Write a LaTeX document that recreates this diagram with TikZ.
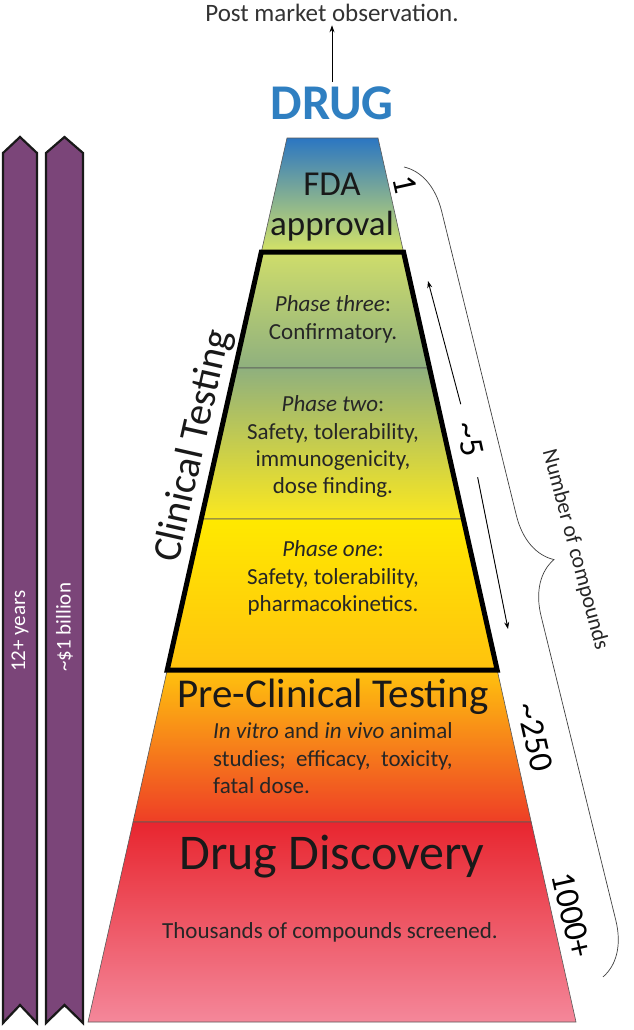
\documentclass[tikz,border=0pt]{standalone}
\usepackage{fontspec}
\setmainfont{Carlito}
\usetikzlibrary{arrows.meta,decorations.pathreplacing}

\definecolor{ribbonpurple}{HTML}{7B4579}
\definecolor{drugblue}{HTML}{2F7FC1}
\definecolor{fdatop}{HTML}{2B76C2}
\definecolor{fdamid}{HTML}{8EC0C2}
\definecolor{fdabot}{HTML}{D6E466}
\definecolor{ph3top}{HTML}{CFDD6B}
\definecolor{ph3bot}{HTML}{8FB07E}
\definecolor{ph2mid}{HTML}{C8D266}
\definecolor{ph2bot}{HTML}{FBE81F}
\definecolor{ph1top}{HTML}{FFE900}
\definecolor{ph1bot}{HTML}{FFC20E}
\definecolor{premid}{HTML}{F7941D}
\definecolor{prebot}{HTML}{EE3E26}
\definecolor{disctop}{HTML}{E8262F}
\definecolor{discmid}{HTML}{EF6370}
\definecolor{discbot}{HTML}{F4879A}

\tikzset{
  declare function={xl(\y)=287-0.2251*(\y-138); xr(\y)=378+0.224*(\y-138);},
  layer/.style={draw=black!65, line width=0.6pt},
  phasetext/.style={font=\fontsize{23}{27}\selectfont, text=black!85, inner sep=0pt},
  title/.style={font=\fontsize{#1}{#1}\selectfont, text=black!90, inner sep=0pt},
  count/.style={font=\fontsize{34}{34}\selectfont, rotate=-77.4, inner sep=2pt},
  ribbon/.style={fill=ribbonpurple, draw=black!90, line width=2.2pt},
  ribbontext/.style={font=\fontsize{21}{21}\selectfont, text=white, rotate=90, anchor=west, inner sep=0pt},
  numarrow/.style={-{Stealth[length=7pt,width=5pt]}, line width=0.9pt},
  compbrace/.style={decorate, decoration={brace, amplitude=52pt}, draw=black!75, line width=0.7pt},
}

\begin{document}
\begin{tikzpicture}[x=1pt, y=-1pt]
\useasboundingbox (0,0) rectangle (633,1030);
\fill[white] (0,0) rectangle (633,1030);

 % ribbons
 \foreach \xa/\xb/\txt/\n in {3/37/{12+ years}/years, 46/83/{\textasciitilde\$1 billion}/cost} {
   \draw[ribbon] (\xa,153) -- ({(\xa+\xb)/2},137) -- (\xb,153) -- (\xb,1023) -- ({(\xa+\xb)/2},1005) -- (\xa,1023) -- cycle;
   \node[ribbontext] (\n) at ({(\xa+\xb)/2}, 672) {\txt};
 }

 % pyramid layers
 \foreach \ya/\yb/\ct/\cm/\cb in {138/252/fdatop/fdamid/fdabot, 252/368/ph3top/ph3top!50!ph3bot/ph3bot,
     368/519/ph3bot/ph2mid/ph2bot, 519/670/ph1top/ph1top!50!ph1bot/ph1bot,
     670/822/ph1bot/premid/prebot, 822/1022/disctop/discmid/discbot} {
   \draw[layer, top color=\ct, middle color=\cm, bottom color=\cb]
     ({xl(\ya)},\ya) -- ({xr(\ya)},\ya) -- ({xr(\yb)},\yb) -- ({xl(\yb)},\yb) -- cycle;
 }

 % clinical box
 \draw[line width=5pt, line join=miter] ({xl(252)},252) -- ({xr(252)},252) -- ({xr(670)},670) -- ({xl(670)},670) -- cycle;

 % top
 \node[inner sep=0pt, font=\fontsize{50}{50}\selectfont\bfseries, text=drugblue] (drug) at (332,103) {DRUG};
 \node[font=\fontsize{25}{25}\selectfont, text=black!80] (post) at (332,13) {Post market observation.};
 \draw[-{Stealth[length=7pt,width=5pt]}, line width=0.9pt, shorten <=4pt] (drug) -- (post);

 \node[title=35, anchor=base] (fda) at (332,195) {FDA};
 \node[title=35, anchor=base] (approval) at (332,235) {approval};

 % phases
 \foreach \yy/\txt [count=\k] in {311/{\textit{Phase three}:}, 339/Confirmatory.,
     411/{\textit{Phase two}:}, 439/{Safety, tolerability,}, 466/{immunogenicity,}, 493/{dose finding.},
     556/{\textit{Phase one}:}, 584/{Safety, tolerability,}, 611/pharmacokinetics.} {
   \node[phasetext, anchor=base] (ph\k) at (333,\yy) {\txt};
 }
 \node[title=40, rotate=77.3] (clinical) at (194,446) {Clinical Testing};

 % pre-clinical
 \node[title=41, anchor=base] (preclin) at (333,707) {Pre-Clinical Testing};
 \foreach \yy/\txt [count=\k] in {738/{\textit{In vitro} and \textit{in vivo} animal},
     766/{studies;~ efficacy,~ toxicity,}, 793/{fatal dose.}} {
   \node[phasetext, anchor=base west] (pre\k) at (213,\yy) {\txt};
 }

 % discovery
 \node[title=50, anchor=base] (disc) at (332,869) {Drug Discovery};
 \node[phasetext, anchor=base] (screen) at (330,938) {Thousands of compounds screened.};

 % counts
 \node[count] (one) at (405,185) {1};
 \node[count] (five) at (470,439) {\textasciitilde5};
 \node[count] (twofifty) at (535,737) {\textasciitilde250};
 \node[count] (thousand) at (572,915) {1000+};

 \coordinate (fiveup) at (428,281);
 \coordinate (fivedown) at (508,629);
 \draw[numarrow, shorten <=36pt] (five.center) -- (fiveup);
 \draw[numarrow, shorten <=39pt] (five.center) -- (fivedown);

 % brace
 \coordinate (bracetop) at (404,167);
 \coordinate (bracebot) at (603,977);
 \draw[compbrace] (bracetop) -- (bracebot);
 \node[font=\fontsize{22}{22}\selectfont, text=black!85, rotate=-75] (ncomp) at (575,550) {Number of compounds};

\end{tikzpicture}
\end{document}
